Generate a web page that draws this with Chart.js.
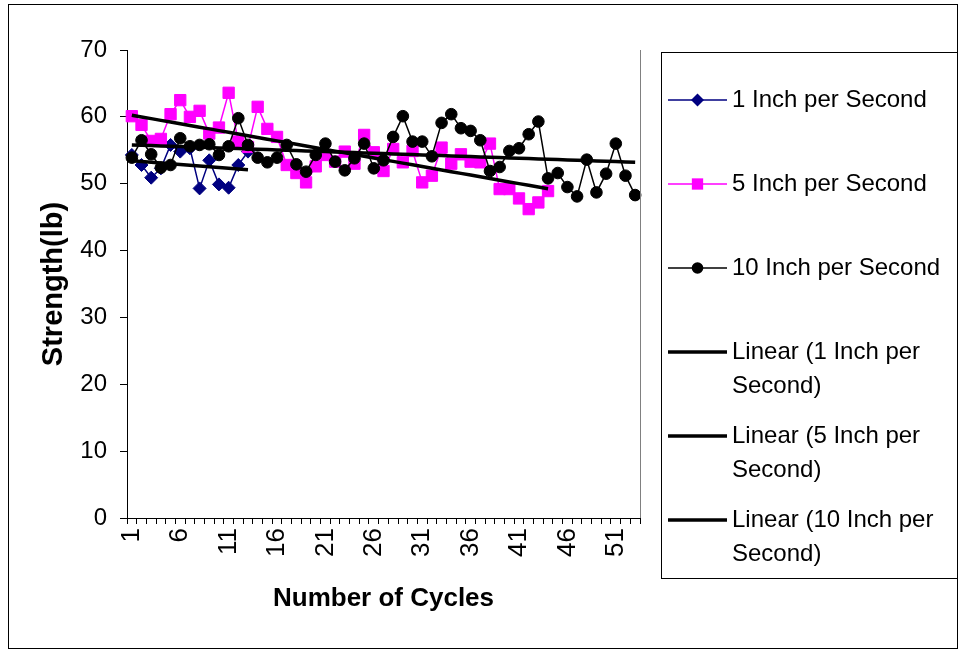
<!DOCTYPE html>
<html>
<head>
<meta charset="utf-8">
<script src="https://cdn.jsdelivr.net/npm/chart.js@4/dist/chart.umd.min.js"></script>
<style>
  html, body { margin: 0; padding: 0; background: #fff; }
  #wrap { position: relative; width: 959px; height: 651px; }
</style>
</head>
<body>
<div id="wrap"><canvas id="chart" width="959" height="651"></canvas></div>
<script>
// --- Data ---
const cycles = ['1','2','3','4','5','6','7','8','9','10','11','12','13','14','15','16','17','18','19','20',
  '21','22','23','24','25','26','27','28','29','30','31','32','33','34','35','36','37','38','39','40',
  '41','42','43','44','45','46','47','48','49','50','51','52','53'];

const oneInch = [54.3, 52.8, 50.9, 52.3, 55.8, 54.8, 55.3, 49.3, 53.5, 49.9, 49.4, 52.8, 54.8];

const fiveInch = [60.1, 58.8, 56.4, 56.7, 60.4, 62.5, 60.0, 60.9, 57.5, 58.4,
  63.6, 56.3, 55.5, 61.5, 58.2, 57.0, 52.8, 51.6, 50.2, 52.6,
  54.3, 53.3, 54.8, 53.0, 57.3, 54.7, 51.9, 55.2, 53.2, 54.9,
  50.2, 51.2, 55.4, 53.0, 54.4, 53.3, 53.2, 56.0, 49.2, 49.2,
  47.8, 46.2, 47.2, 48.9];

const tenInch = [53.9, 56.5, 54.4, 52.4, 52.8, 56.8, 55.6, 55.8, 55.9, 54.3,
  55.6, 59.8, 55.8, 53.9, 53.2, 53.9, 55.8, 52.9, 51.8, 54.3,
  56.0, 53.3, 52.0, 53.8, 56.0, 52.3, 53.5, 57.0, 60.1, 56.3,
  56.3, 54.1, 59.1, 60.4, 58.3, 57.9, 56.5, 51.9, 52.5, 54.9,
  55.3, 57.4, 59.3, 50.8, 51.6, 49.5, 48.1, 53.6, 48.7, 51.5,
  56.0, 51.2, 48.3];

const yTicks = [0, 10, 20, 30, 40, 50, 60, 70];
const seriesNames = ['1 Inch per Second', '5 Inch per Second', '10 Inch per Second'];

const FONT = '"Liberation Sans", Arial, sans-serif';

// least squares trend, same as Excel's "Linear" trendline
function linearTrend(vals) {
  const n = vals.length;
  let sx = 0, sy = 0, sxy = 0, sxx = 0;
  vals.forEach((v, i) => { const x = i + 1; sx += x; sy += v; sxy += x * v; sxx += x * x; });
  const b = (n * sxy - sx * sy) / (n * sxx - sx * sx);
  const a = (sy - b * sx) / n;
  return vals.map((v, i) => a + b * (i + 1));
}

const seriesStyle = [
  { data: oneInch, color: '#000080', style: 'rectRot', radius: 6.5 },
  { data: fiveInch, color: '#FF00FF', style: 'rect', radius: 8 },
  { data: tenInch, color: '#000000', style: 'circle', radius: 5.8 },
];

const datasets = [];
seriesStyle.forEach((s, i) => {
  datasets.push({
    label: seriesNames[i], data: s.data, borderColor: s.color, backgroundColor: s.color,
    borderWidth: 1.5, pointStyle: s.style, pointRadius: s.radius, pointBorderWidth: 1,
    pointBackgroundColor: s.color, pointBorderColor: s.color, tension: 0, order: 3 - i
  });
});
seriesStyle.forEach((s, i) => {
  datasets.push({
    label: 'Linear (' + seriesNames[i] + ')', data: linearTrend(s.data), borderColor: '#000',
    borderWidth: 3.5, pointRadius: 0, tension: 0, order: 0
  });
});

// --- frame, plot edge and legend drawn on the canvas ---
function drawMarker(ctx, style, color, x, y, r) {
  ctx.fillStyle = color;
  ctx.beginPath();
  if (style === 'rectRot') {
    ctx.moveTo(x, y - r); ctx.lineTo(x + r, y); ctx.lineTo(x, y + r); ctx.lineTo(x - r, y);
    ctx.closePath();
  } else if (style === 'rect') {
    const h = r * Math.SQRT1_2;
    ctx.rect(x - h, y - h, 2 * h, 2 * h);
  } else {
    ctx.arc(x, y, r, 0, Math.PI * 2);
  }
  ctx.fill();
}

function wrapText(ctx, text, maxW) {
  const words = text.split(' ');
  const lines = [];
  let cur = '';
  words.forEach(w => {
    const test = cur ? cur + ' ' + w : w;
    if (ctx.measureText(test).width > maxW && cur) { lines.push(cur); cur = w; }
    else cur = test;
  });
  if (cur) lines.push(cur);
  return lines;
}

const framePlugin = {
  id: 'frame',
  afterDraw(chart) {
    const ctx = chart.ctx;
    const area = chart.chartArea;
    ctx.save();
    // outer border
    ctx.strokeStyle = '#000';
    ctx.lineWidth = 1;
    ctx.strokeRect(8.5, 4.5, 949, 644);
    // right edge of plot area
    ctx.strokeStyle = '#808080';
    ctx.beginPath();
    ctx.moveTo(Math.round(area.right) + 0.5, area.top);
    ctx.lineTo(Math.round(area.right) + 0.5, area.bottom);
    ctx.stroke();

    // legend box
    ctx.strokeStyle = '#000';
    ctx.strokeRect(661.5, 52.5, 296, 526);
    ctx.font = '24px ' + FONT;
    ctx.fillStyle = '#000';
    ctx.textBaseline = 'middle';
    ctx.textAlign = 'left';
    let y = 100;
    chart.data.datasets.forEach((ds, i) => {
      ctx.strokeStyle = ds.borderColor;
      ctx.lineWidth = ds.borderWidth;
      ctx.beginPath();
      ctx.moveTo(668, y); ctx.lineTo(727, y);
      ctx.stroke();
      if (ds.pointRadius > 0) drawMarker(ctx, ds.pointStyle, ds.pointBackgroundColor, 697.5, y, ds.pointRadius);
      const lines = wrapText(ctx, ds.label, 228);
      ctx.fillStyle = '#000';
      lines.forEach((ln, k) => ctx.fillText(ln, 732, y + k * 34));
      y += 84;
    });
    ctx.restore();
  }
};

new Chart(document.getElementById('chart'), {
  type: 'line',
  data: { labels: cycles, datasets: datasets },
  options: {
    responsive: false,
    animation: false,
    devicePixelRatio: 1,
    layout: { padding: { left: 33, top: 50, right: 319, bottom: 31 } },
    plugins: { legend: { display: false }, tooltip: { enabled: false } },
    scales: {
      x: {
        type: 'category',
        offset: true,
        afterFit(scale) { scale.height = 102; },
        grid: { offset: true, drawOnChartArea: false, tickLength: 6, color: '#000', tickColor: '#000' },
        border: { color: '#000', width: 1 },
        ticks: {
          autoSkip: false, maxRotation: 90, minRotation: 90, padding: 4, color: '#000',
          font: { size: 26, family: FONT },
          callback: (v, i) => (i % 5 === 0 ? cycles[i] : '')
        },
        title: { display: true, text: 'Number of Cycles', color: '#000', font: { size: 26, weight: 'bold', family: FONT }, padding: { top: 4, bottom: 6 } }
      },
      y: {
        min: yTicks[0], max: yTicks[yTicks.length - 1],
        afterFit(scale) { scale.width = 94; },
        afterBuildTicks(scale) { scale.ticks = yTicks.map(v => ({ value: v })); },
        grid: { drawOnChartArea: false, tickLength: 7, color: '#000', tickColor: '#000' },
        border: { color: '#000', width: 1 },
        ticks: { padding: 13, color: '#000', font: { size: 24, family: FONT } },
        title: { display: true, text: 'Strength(lb)', color: '#000', font: { size: 29, weight: 'bold', family: FONT }, padding: { top: 4, bottom: 4 } }
      }
    }
  },
  plugins: [framePlugin]
});
</script>
</body>
</html>
